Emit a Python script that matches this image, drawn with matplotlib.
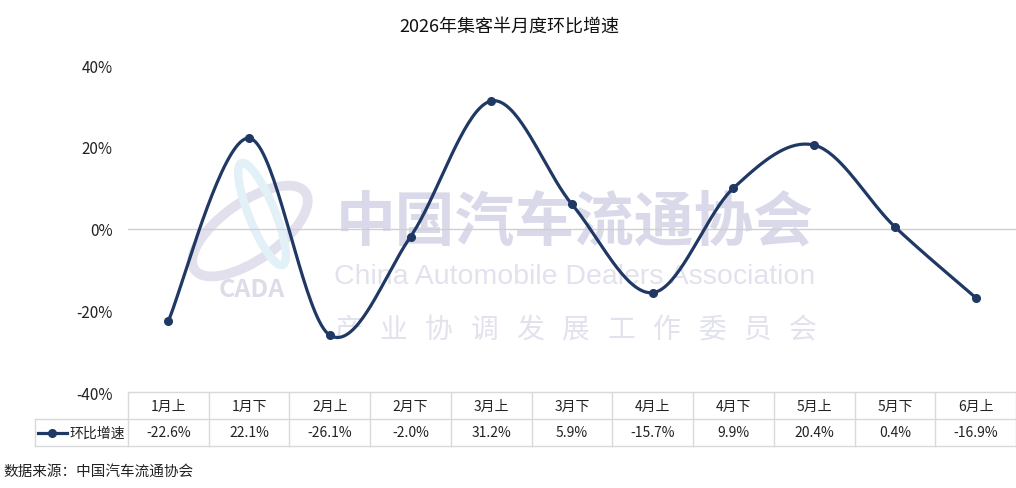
import numpy as np
import matplotlib
matplotlib.use('Agg')
from matplotlib import pyplot as plt
from matplotlib.patches import Ellipse

plt.rcParams['font.family'] = ['Noto Sans CJK SC', 'DejaVu Sans']

categories = ['1月上', '1月下', '2月上', '2月下', '3月上', '3月下',
              '4月上', '4月下', '5月上', '5月下', '6月上']
growth = [-22.6, 22.1, -26.1, -2.0, 31.2, 5.9, -15.7, 9.9, 20.4, 0.4, -16.9]
y_ticks = [-40, -20, 0, 20, 40]
series_name = '环比增速'
title = '2026年集客半月度环比增速'
source = '数据来源：中国汽车流通协会'

line_color = '#1f3864'
border = '#d9d9d9'


def smooth(xs, ys, n=40):
    # catmull-rom, like the smoothed line in excel
    xs = np.asarray(xs, float)
    ys = np.asarray(ys, float)
    px = np.concatenate([[xs[0]], xs, [xs[-1]]])
    py = np.concatenate([[ys[0]], ys, [ys[-1]]])
    out_x, out_y = [], []
    for i in range(1, len(px) - 2):
        t = np.linspace(0, 1, n)
        for p, out in ((px, out_x), (py, out_y)):
            p0, p1, p2, p3 = p[i - 1], p[i], p[i + 1], p[i + 2]
            c1 = p1 + (p2 - p0) / 6
            c2 = p2 - (p3 - p1) / 6
            out.extend((1 - t) ** 3 * p1 + 3 * (1 - t) ** 2 * t * c1
                       + 3 * (1 - t) * t ** 2 * c2 + t ** 3 * p2)
    return np.array(out_x), np.array(out_y)


fig = plt.figure(figsize=(10.16, 4.89), dpi=100)
ax = fig.add_axes([128 / 1016, 96 / 489, 888 / 1016, 327 / 489])

x = np.arange(len(categories))
sx, sy = smooth(x, growth)
ax.plot(sx, sy, color=line_color, lw=2.3, zorder=5, solid_capstyle='round')
ax.plot(x, growth, 'o', color=line_color, ms=5.5, zorder=6)
ax.axhline(0, color='#d0d0d0', lw=1, zorder=2)

ax.set_xlim(-0.5, len(categories) - 0.5)
ax.set_ylim(-40, 40)
ax.set_yticks(y_ticks)
ax.set_yticklabels([f'{v}%' for v in y_ticks], fontsize=11, color='#222222')
ax.set_xticks([])
ax.tick_params(axis='y', length=0, pad=11)
for s in ax.spines.values():
    s.set_visible(False)

# watermark, kept inside the axes so the line sits on top
ft = fig.transFigure
wm = '#d9d9ea'
wm2 = '#e2e2ef'
ax.text(575 / 1016, 1 - 224 / 489, '中国汽车流通协会', fontsize=43, fontweight='black',
        color=wm, ha='center', va='center', zorder=1, transform=ft)
ax.text(575 / 1016, 1 - 277 / 489, 'China Automobile Dealers Association',
        family='Liberation Sans', fontsize=20.5, color=wm2, ha='center', va='center',
        zorder=1, transform=ft)
sub = '产业协调发展工作委员会'
for k, ch in enumerate(sub):
    ax.text((348 + k * 45.5) / 1016, 1 - 330 / 489, ch, fontsize=20, color=wm2,
            ha='center', va='center', zorder=1, transform=ft)
ax.add_patch(Ellipse((250, 489 - 232), 135, 58, angle=35, fill=False, ec='#e2e0ec', lw=7,
                     transform=None, zorder=1))
ax.add_patch(Ellipse((262, 489 - 215), 26, 110, angle=22, fill=False, ec='#e2f1f8', lw=6,
                     transform=None, zorder=1))
ax.text(252 / 1016, 1 - 290 / 489, 'CADA', fontsize=18, fontweight='bold', style='italic',
        color='#dfdcea', ha='center', va='center', zorder=1, transform=ft)
ax.set_xlim(-0.5, len(categories) - 0.5)
ax.set_ylim(-40, 40)

# data table under the axes
rh = 27 / 327
ncol = len(categories)
tr = ax.get_xaxis_transform()
ax.plot([-0.5, ncol - 0.5], [0, 0], color=border, lw=1, transform=tr, clip_on=False)
left = -0.5 - 93 / 80.7
for yy in (-rh, -2 * rh):
    ax.plot([left, ncol - 0.5], [yy, yy], color=border, lw=1, transform=tr, clip_on=False)
ax.plot([left, left], [-rh, -2 * rh], color=border, lw=1, transform=tr, clip_on=False)
for i in range(ncol + 1):
    ax.plot([i - 0.5, i - 0.5], [0, -2 * rh], color=border, lw=1, transform=tr, clip_on=False)
for i, (c, v) in enumerate(zip(categories, growth)):
    ax.text(i, -rh / 2, c, fontsize=10, ha='center', va='center', transform=tr, color='#222222')
    ax.text(i, -1.5 * rh, f'{v:.1f}%', fontsize=10, ha='center', va='center', transform=tr,
            color='#222222')
lx0 = left + 3 / 80.7
lx1 = left + 32 / 80.7
ax.plot([lx0, lx1], [-1.5 * rh] * 2, color=line_color, lw=2.3, transform=tr, clip_on=False)
ax.plot([(lx0 + lx1) / 2], [-1.5 * rh], 'o', color=line_color, ms=5.5, transform=tr,
        clip_on=False)
ax.text(lx1 + 2 / 80.7, -1.5 * rh, series_name, fontsize=10, ha='left', va='center',
        transform=tr, color='#222222')

fig.text(509 / 1016, 1 - 28 / 489, title, fontsize=13, ha='center', va='center', color='#111111')
fig.text(3 / 1016, 1 - 472 / 489, source, fontsize=10.5, ha='left', va='center', color='#222222')

fig.savefig('out.png', dpi=100)
